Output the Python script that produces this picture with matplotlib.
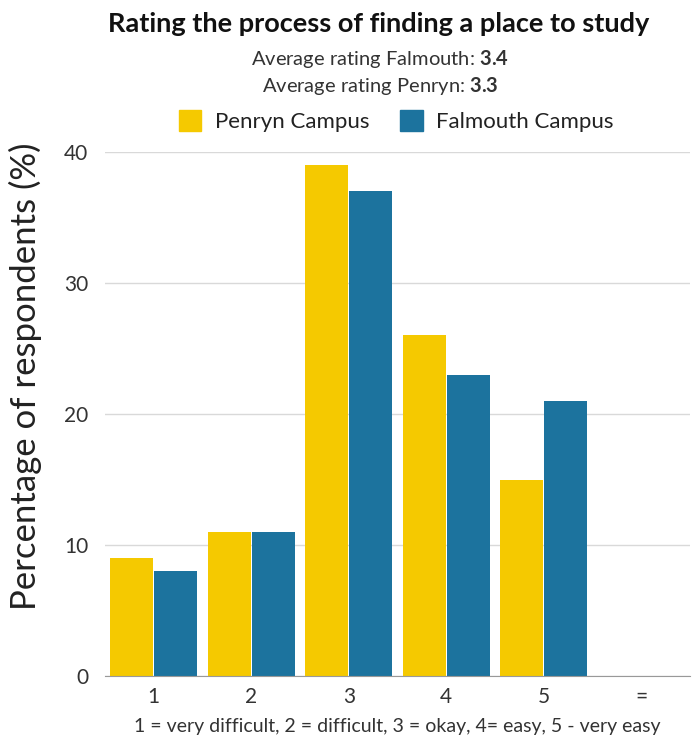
import matplotlib.pyplot as plt
import numpy as np
from matplotlib.patches import Patch

# chart data
categories = ['1', '2', '3', '4', '5', '=']
penryn = [9, 11, 39, 26, 15, 0]
falmouth = [8, 11, 37, 23, 21, 0]
avg_falmouth = '3.4'
avg_penryn = '3.3'

yellow = '#F5C900'
blue = '#1C739E'

plt.rcParams['font.family'] = ['Lato', 'DejaVu Sans']
plt.rcParams['mathtext.fontset'] = 'custom'
plt.rcParams['mathtext.bf'] = 'Lato:bold'
plt.rcParams['mathtext.rm'] = 'Lato'

fig = plt.figure(figsize=(6.94, 7.38), dpi=100)
ax = fig.add_axes([0.1513, 0.084, 0.843, 0.710])

x = np.arange(len(categories))
w = 0.44
ax.bar(x - 0.225, penryn, width=w, color=yellow, zorder=3)
ax.bar(x + 0.225, falmouth, width=w, color=blue, zorder=3)

ax.set_xlim(-0.5, len(categories) - 0.5)
ax.set_ylim(0, 40)
ax.set_yticks([0, 10, 20, 30, 40])
ax.set_xticks(x)
ax.set_xticklabels(categories)
ax.tick_params(axis='both', length=0, labelsize=15, colors='#333333')
ax.tick_params(axis='x', pad=8)
ax.tick_params(axis='y', pad=12)
ax.grid(axis='y', color='#d9d9d9', linewidth=1, zorder=0)
for s in ['top', 'right', 'left']:
    ax.spines[s].set_visible(False)
ax.spines['bottom'].set_color('#999999')
ax.spines['bottom'].set_zorder(4)

ax.set_ylabel('Percentage of respondents (%)', fontsize=25, color='#222222')
ax.yaxis.set_label_coords(-0.108, 0.573)
ax.set_xlabel('1 = very difficult, 2 = difficult, 3 = okay, 4= easy, 5 - very easy',
              fontsize=14, color='#333333', labelpad=8)

# title and subtitles
fig.text(0.546, 0.967, 'Rating the process of finding a place to study',
         ha='center', va='center', fontsize=19.5, fontweight='bold', color='#111111')
fig.text(0.548, 0.920, 'Average rating Falmouth: $\\mathbf{' + avg_falmouth + '}$',
         ha='center', va='center', fontsize=14.5, color='#333333')
fig.text(0.548, 0.883, 'Average rating Penryn: $\\mathbf{' + avg_penryn + '}$',
         ha='center', va='center', fontsize=14.5, color='#333333')

handles = [Patch(color=yellow, label='Penryn Campus'),
           Patch(color=blue, label='Falmouth Campus')]
fig.legend(handles=handles, loc='center', bbox_to_anchor=(0.571, 0.836), ncol=2,
           frameon=False, fontsize=16, handlelength=1.0, handleheight=1.1,
           handletextpad=0.6, columnspacing=1.4, labelcolor='#222222')

fig.savefig('out.png', dpi=100)
